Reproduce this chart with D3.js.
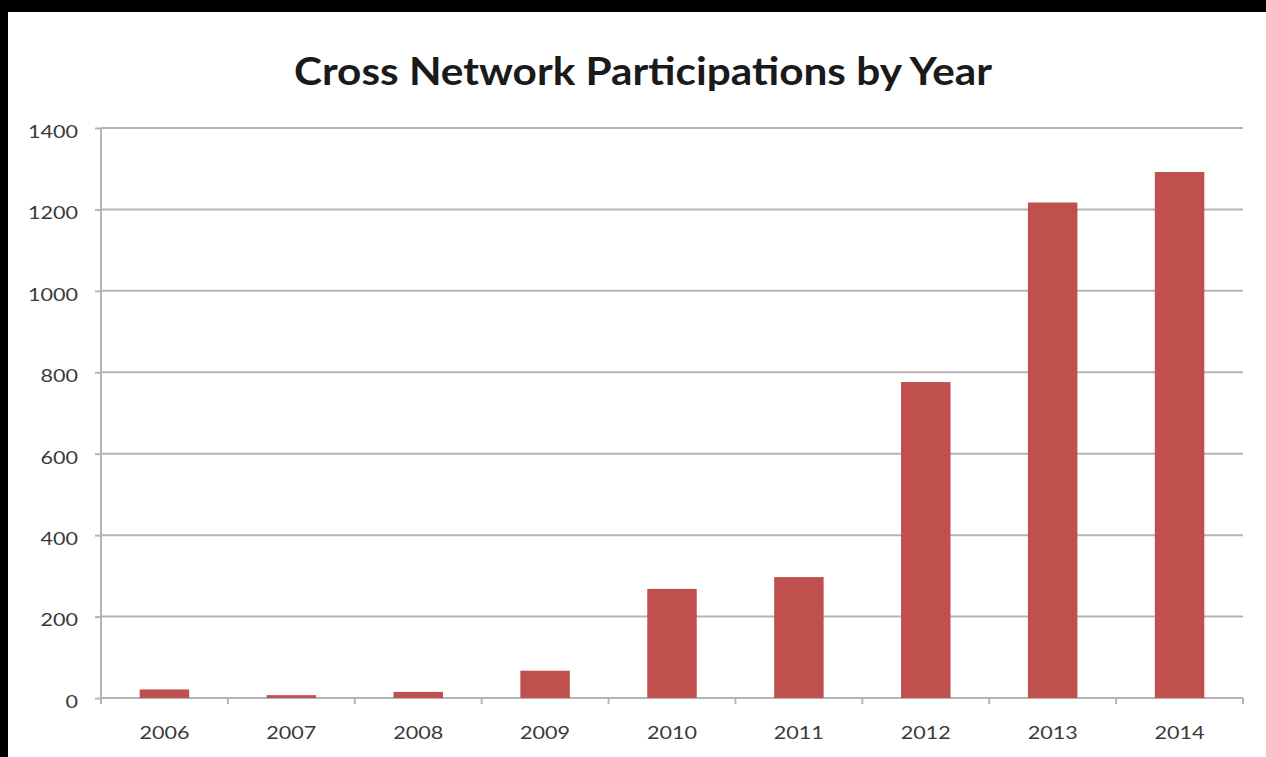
<!DOCTYPE html>
<html>
<head>
<meta charset="utf-8">
<script src="https://cdn.jsdelivr.net/npm/d3@7"></script>
<style>
  html, body { margin: 0; padding: 0; background: #000; }
  svg { display: block; }
</style>
</head>
<body>
<svg id="chart" width="1266" height="757"></svg>
<script>
// Participations per year
const years = ["2006", "2007", "2008", "2009", "2010", "2011", "2012", "2013", "2014"];
const participations = [21, 7, 15, 67, 268, 297, 776, 1217, 1292];
const yTicks = [0, 200, 400, 600, 800, 1000, 1200, 1400];
const title = "Cross Network Participations by Year";

const svg = d3.select("#chart");
const W = 1266, H = 757;
const font = "Lato, 'Open Sans', sans-serif";

// dark frame with white panel
svg.append("rect").attr("width", W).attr("height", H).attr("fill", "#000");
svg.append("rect").attr("x", 8).attr("y", 12).attr("width", W - 8).attr("height", H - 12)
  .attr("fill", "#fff");

const plot = { left: 101, right: 1243, top: 128, bottom: 698 };

const x = d3.scaleBand().domain(years).range([plot.left, plot.right])
  .paddingInner(0.61).paddingOuter(0.305);
const xOuter = d3.scaleBand().domain(years).range([plot.left, plot.right]);
const y = d3.scaleLinear().domain([0, 1400]).range([plot.bottom, plot.top]);

// horizontal gridlines
svg.append("g").selectAll("line").data(yTicks.filter(d => d > 0)).join("line")
  .attr("x1", plot.left).attr("x2", plot.right)
  .attr("y1", d => y(d)).attr("y2", d => y(d))
  .attr("stroke", "#b4b4b4").attr("stroke-width", 2);

// y axis
const yAxis = d3.axisLeft(y).tickValues(yTicks).tickFormat(d3.format("d"))
  .tickSize(6).tickPadding(17);
const gy = svg.append("g").attr("transform", `translate(${plot.left},0)`).call(yAxis);
gy.select(".domain").attr("stroke", "#b4b4b4").attr("stroke-width", 2)
  .attr("d", `M0,${plot.top}V${plot.bottom}`);
gy.selectAll(".tick line").attr("stroke", "#b4b4b4").attr("stroke-width", 2);
gy.selectAll(".tick text").attr("fill", "#3a3a3a").style("font-family", font)
  .style("font-size", "18px").attr("dy", "0.52em")
  .attr("textLength", d => String(d).length * 12.5)
  .attr("lengthAdjust", "spacingAndGlyphs");

// x axis with ticks on category boundaries
const gx = svg.append("g").attr("transform", `translate(0,${plot.bottom})`);
gx.append("line").attr("x1", plot.left).attr("x2", plot.right)
  .attr("stroke", "#b4b4b4").attr("stroke-width", 2);
const bounds = years.map(d => xOuter(d)).concat([plot.right]);
gx.selectAll("line.tk").data(bounds).join("line").attr("class", "tk")
  .attr("x1", d => d).attr("x2", d => d).attr("y1", 0).attr("y2", 6)
  .attr("stroke", "#b4b4b4").attr("stroke-width", 2);
gx.selectAll("text").data(years).join("text")
  .attr("x", d => xOuter(d) + xOuter.bandwidth() / 2)
  .attr("y", 41)
  .attr("text-anchor", "middle")
  .attr("fill", "#3a3a3a")
  .style("font-family", font)
  .style("font-size", "18px")
  .attr("textLength", 50)
  .attr("lengthAdjust", "spacingAndGlyphs")
  .text(d => d);

// bars
svg.append("g").selectAll("rect").data(years.map((d, i) => ({ year: d, v: participations[i] })))
  .join("rect")
  .attr("x", d => x(d.year))
  .attr("width", x.bandwidth())
  .attr("y", d => y(d.v))
  .attr("height", d => y(0) - y(d.v))
  .attr("fill", "#c0504d");

// title
svg.append("text")
  .attr("x", 643).attr("y", 85)
  .attr("text-anchor", "middle")
  .attr("fill", "#1a1a1a")
  .style("font-family", font)
  .style("font-weight", "bold")
  .style("font-size", "39px")
  .attr("textLength", 698)
  .attr("lengthAdjust", "spacingAndGlyphs")
  .text(title);
</script>
</body>
</html>
